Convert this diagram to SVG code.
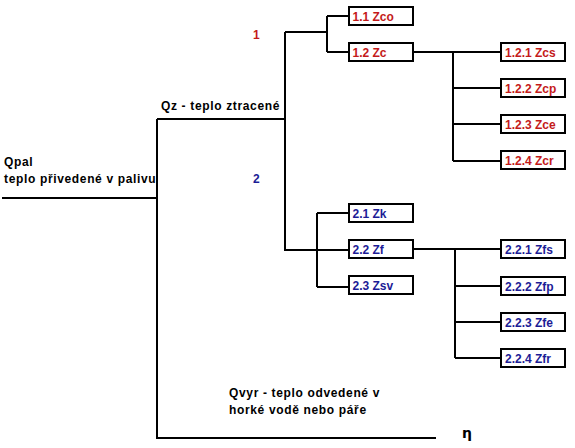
<svg xmlns="http://www.w3.org/2000/svg" width="575" height="448" viewBox="0 0 575 448">
<style>
text{font-family:"Liberation Sans",Arial,sans-serif;font-weight:bold;font-size:12px}
.lbl{fill:#000;letter-spacing:0.65px}
.red{fill:#c41a1a}
.blue{fill:#1c1c96}
.box{fill:#fff;stroke:#000;stroke-width:2}
.ln{fill:none;stroke:#000;stroke-width:2}
</style>
<rect width="575" height="448" fill="#fff"/>
<g id="connectors">
<path class="ln" d="M2 198H157M157 119V438H436M157 119H285M285 32V251"/>
<path class="ln" d="M285 32H327M327 16V52M327 16H349M327 52H349"/>
<path class="ln" d="M413 52H501M453 52V161M453 88H501M453 124H501M453 161H501"/>
<path class="ln" d="M285 250H349M317 213V287M317 213H349M317 287H349"/>
<path class="ln" d="M413 249H501M455 249V358M455 286H501M455 322H501M455 358H501"/>
</g>
<g id="labels">
<text class="lbl" x="4" y="166">Qpal</text>
<text class="lbl" x="4" y="183">teplo přivedené v palivu</text>
<text class="lbl" x="161" y="110">Qz - teplo ztracené</text>
<text class="red" x="253" y="38.5">1</text>
<text class="blue" x="253" y="183">2</text>
<text class="lbl" x="229" y="397">Qvyr - teplo odvedené v</text>
<text class="lbl" x="229" y="414">horké vodě nebo páře</text>
<text x="462" y="438" style="font-size:14px;font-family:'DejaVu Sans',sans-serif">η</text>
</g>
<g id="n11"><rect class="box" x="349" y="7" width="64" height="18"/><text class="red" x="352.5" y="20.5">1.1 Zco</text></g>
<g id="n12"><rect class="box" x="349" y="43" width="64" height="18"/><text class="red" x="352.5" y="56.5">1.2 Zc</text></g>
<g id="n121"><rect class="box" x="501" y="43" width="64" height="18"/><text class="red" x="505" y="56.5">1.2.1 Zcs</text></g>
<g id="n122"><rect class="box" x="501" y="79" width="64" height="18"/><text class="red" x="505" y="92.5">1.2.2 Zcp</text></g>
<g id="n123"><rect class="box" x="501" y="115" width="64" height="18"/><text class="red" x="505" y="128.5">1.2.3 Zce</text></g>
<g id="n124"><rect class="box" x="501" y="151" width="64" height="18"/><text class="red" x="505" y="164.5">1.2.4 Zcr</text></g>
<g id="n21"><rect class="box" x="349" y="204" width="64" height="18"/><text class="blue" x="352.5" y="217.5">2.1 Zk</text></g>
<g id="n22"><rect class="box" x="349" y="240" width="64" height="18"/><text class="blue" x="352.5" y="253.5">2.2 Zf</text></g>
<g id="n23"><rect class="box" x="349" y="276" width="64" height="18"/><text class="blue" x="352.5" y="289.5">2.3 Zsv</text></g>
<g id="n221"><rect class="box" x="501" y="240" width="64" height="18"/><text class="blue" x="505" y="253.5">2.2.1 Zfs</text></g>
<g id="n222"><rect class="box" x="501" y="277" width="64" height="18"/><text class="blue" x="505" y="290.5">2.2.2 Zfp</text></g>
<g id="n223"><rect class="box" x="501" y="313" width="64" height="18"/><text class="blue" x="505" y="326.5">2.2.3 Zfe</text></g>
<g id="n224"><rect class="box" x="501" y="349" width="64" height="18"/><text class="blue" x="505" y="362.5">2.2.4 Zfr</text></g>
</svg>
